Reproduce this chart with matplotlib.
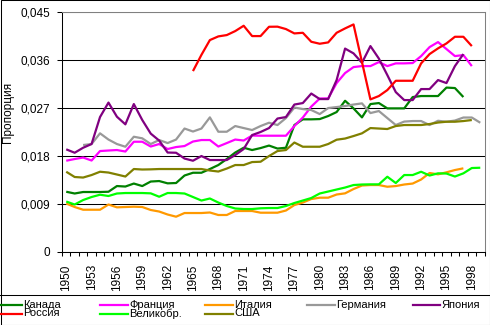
import numpy as np
import matplotlib
matplotlib.use("Agg")
import matplotlib.pyplot as plt
from matplotlib.lines import Line2D
from matplotlib.patches import Rectangle
from matplotlib.ticker import FixedLocator, FixedFormatter, NullFormatter

nan = np.nan

years = list(range(1950, 2000))

canada = [0.01127, 0.01094, 0.01122, 0.01122, 0.01122, 0.01127, 0.01234, 0.01225, 0.01281, 0.01234,
          0.01319, 0.01328, 0.01285, 0.01291, 0.01432, 0.01484, 0.01484, 0.01554, 0.01629, 0.01742,
          0.01864, 0.01954, 0.01911, 0.01948, 0.01995, 0.01939, 0.01954, 0.02381, 0.02488, 0.02488,
          0.02493, 0.02550, 0.02625, 0.02837, 0.02694, 0.02525, 0.02775, 0.02794, 0.02694, 0.02694,
          0.02694, 0.02907, 0.02926, 0.02926, 0.02926, 0.03085, 0.03076, 0.02907, nan, nan]

france = [0.01710, 0.01742, 0.01770, 0.01714, 0.01892, 0.01902, 0.01911, 0.01883, 0.02067, 0.02067,
          0.01977, 0.02024, 0.01930, 0.01967, 0.01986, 0.02071, 0.02099, 0.02099, 0.01977, 0.02042,
          0.02108, 0.02090, 0.02183, 0.02180, 0.02180, 0.02180, 0.02180, 0.02362, 0.02522, 0.02728,
          0.02879, 0.02882, 0.03170, 0.03358, 0.03470, 0.03489, 0.03489, 0.03564, 0.03489, 0.03540,
          0.03540, 0.03546, 0.03677, 0.03846, 0.03940, 0.03809, 0.03677, 0.03696, 0.03489, nan]

italy = [0.00906, 0.00840, 0.00789, 0.00789, 0.00789, 0.00887, 0.00834, 0.00840, 0.00846, 0.00840,
         0.00784, 0.00755, 0.00699, 0.00658, 0.00727, 0.00727, 0.00727, 0.00737, 0.00690, 0.00690,
         0.00765, 0.00765, 0.00765, 0.00733, 0.00733, 0.00733, 0.00774, 0.00877, 0.00924, 0.00990,
         0.01015, 0.01015, 0.01075, 0.01097, 0.01178, 0.01244, 0.01253, 0.01253, 0.01221, 0.01234,
         0.01263, 0.01281, 0.01357, 0.01479, 0.01454, 0.01492, 0.01535, 0.01567, nan, nan]

germany = [nan, nan, 0.02005, 0.02024, 0.02225, 0.02108, 0.02024, 0.01973, 0.02161, 0.02131,
           0.02024, 0.02099, 0.02042, 0.02108, 0.02315, 0.02259, 0.02315, 0.02525, 0.02255, 0.02255,
           0.02362, 0.02324, 0.02287, 0.02362, 0.02424, 0.02381, 0.02512, 0.02710, 0.02681, 0.02663,
           0.02587, 0.02700, 0.02719, 0.02738, 0.02766, 0.02788, 0.02606, 0.02644, 0.02512, 0.02381,
           0.02446, 0.02456, 0.02456, 0.02381, 0.02461, 0.02443, 0.02465, 0.02522, 0.02522, 0.02424]

japan = [0.01924, 0.01860, 0.01954, 0.02024, 0.02531, 0.02803, 0.02537, 0.02394, 0.02775, 0.02475,
         0.02220, 0.02089, 0.01864, 0.01860, 0.01751, 0.01710, 0.01798, 0.01723, 0.01723, 0.01723,
         0.01817, 0.01930, 0.02193, 0.02250, 0.02324, 0.02503, 0.02531, 0.02766, 0.02794, 0.02973,
         0.02869, 0.02869, 0.03226, 0.03818, 0.03728, 0.03551, 0.03865, 0.03630, 0.03320, 0.03000,
         0.02850, 0.02850, 0.03057, 0.03057, 0.03226, 0.03170, 0.03489, 0.03715, nan, nan]

russia = [nan, nan, nan, nan, nan, nan, nan, nan, nan, nan,
          nan, nan, nan, nan, nan, 0.03395, 0.03700, 0.03978, 0.04047, 0.04072,
          0.04147, 0.04247, 0.04053, 0.04053, 0.04228, 0.04230, 0.04185, 0.04103, 0.04115, 0.03946,
          0.03909, 0.03934, 0.04115, 0.04197, 0.04272, 0.03565, 0.02863, 0.02926, 0.03038, 0.03213,
          0.03213, 0.03213, 0.03540, 0.03715, 0.03822, 0.03915, 0.04040, 0.04040, 0.03865, nan]

britain = [0.00943, 0.00887, 0.00971, 0.01028, 0.01071, 0.01047, 0.01094, 0.01103, 0.01103, 0.01103,
           0.01097, 0.01033, 0.01103, 0.01103, 0.01094, 0.01028, 0.00962, 0.01000, 0.00924, 0.00859,
           0.00812, 0.00802, 0.00802, 0.00816, 0.00821, 0.00821, 0.00859, 0.00915, 0.00962, 0.01009,
           0.01094, 0.01131, 0.01169, 0.01206, 0.01253, 0.01263, 0.01266, 0.01266, 0.01409, 0.01291,
           0.01441, 0.01441, 0.01503, 0.01432, 0.01473, 0.01469, 0.01413, 0.01473, 0.01573, 0.01578]

usa = [0.01503, 0.01404, 0.01394, 0.01441, 0.01503, 0.01488, 0.01451, 0.01413, 0.01554, 0.01545,
       0.01548, 0.01554, 0.01554, 0.01554, 0.01554, 0.01554, 0.01554, 0.01526, 0.01507, 0.01563,
       0.01629, 0.01629, 0.01685, 0.01691, 0.01798, 0.01892, 0.01911, 0.02052, 0.01973, 0.01973,
       0.01973, 0.02024, 0.02105, 0.02127, 0.02174, 0.02225, 0.02324, 0.02315, 0.02306, 0.02362,
       0.02381, 0.02381, 0.02381, 0.02400, 0.02428, 0.02443, 0.02443, 0.02456, 0.02475, nan]

series_names = ["Канада", "Франция", "Италия", "Германия", "Япония",
                "Россия", "Великобр.", "США"]
series_values = [canada, france, italy, germany, japan, russia, britain, usa]
series_colors = ["#008000", "#FF00FF", "#FF9900", "#999999", "#800080",
                 "#FF0000", "#00FF00", "#808000"]

y_ticks = [0, 0.009, 0.018, 0.027, 0.036, 0.045]
y_tick_labels = ["0", "0,009", "0,018", "0,027", "0,036", "0,045"]
x_label_years = list(range(1950, 2000, 3))
y_title = "Пропорция"

W, H = 490, 325
plt.rcParams['font.family'] = ['Liberation Sans', 'DejaVu Sans']
fig = plt.figure(figsize=(W / 100, H / 100), dpi=100)
fig.patch.set_facecolor("white")


def fx(px):
    return px / W


def fy(py):
    return 1 - py / H


ax = fig.add_axes([fx(62), fy(251.7), fx(484.5) - fx(62), fy(12.3) - fy(251.7)])

for vals, col in zip(series_values, series_colors):
    ax.plot(years, np.array(vals, dtype=float), color=col, lw=1.6, zorder=3,
            solid_joinstyle="round", solid_capstyle="butt")

ax.set_xlim(1949.5, 1999.5)
ax.set_ylim(0, 0.045)

# category axis: labels centred on the years, tick marks between categories
ax.xaxis.set_major_locator(FixedLocator(x_label_years))
ax.xaxis.set_major_formatter(FixedFormatter([str(y) for y in x_label_years]))
ax.xaxis.set_minor_locator(FixedLocator(np.arange(1949.5, 2000.0, 1.0)))
ax.xaxis.set_minor_formatter(NullFormatter())
ax.tick_params(axis="x", which="major", length=0, pad=9, labelsize=8.5, rotation=90)
ax.tick_params(axis="x", which="minor", length=3.2, width=0.75, direction="out", color="black")

ax.yaxis.set_major_locator(FixedLocator(y_ticks))
ax.yaxis.set_major_formatter(FixedFormatter(y_tick_labels))
ax.tick_params(axis="y", which="major", length=3.8, width=0.75, direction="out",
               pad=5, labelsize=8.5, color="black")

ax.yaxis.grid(True, color="black", lw=0.75)
ax.set_axisbelow(True)

for side in ("left", "bottom"):
    ax.spines[side].set_color("black")
    ax.spines[side].set_linewidth(0.75)
for side in ("top", "right"):
    ax.spines[side].set_color("#808080")
    ax.spines[side].set_linewidth(0.75)

fig.text(fx(8), fy(112), y_title, rotation=90, ha="center", va="center", fontsize=8.5)

# legend box along the bottom of the chart
fig.add_artist(Line2D([0, 1], [fy(294.5), fy(294.5)], transform=fig.transFigure,
                      color="black", lw=0.75))
legend_rows = [304.5, 313.5]
legend_cols = [(0, 22), (100, 128), (205, 233), (307, 335), (413, 440)]
slots = [(0, 0), (0, 1), (0, 2), (0, 3), (0, 4), (1, 0), (1, 1), (1, 2)]
for name, col, (r, c) in zip(series_names, series_colors, slots):
    x0, x1 = legend_cols[c]
    yy = fy(legend_rows[r])
    fig.add_artist(Line2D([fx(x0), fx(x1)], [yy, yy], transform=fig.transFigure,
                          color=col, lw=1.6))
    fig.text(fx(x1 + 1), yy, name, ha="left", va="center", fontsize=8)

# chart frame
fig.add_artist(Rectangle((fx(0.5), fy(324.5)), fx(489), fy(0.5) - fy(324.5),
                         transform=fig.transFigure, fill=False, edgecolor="black", lw=0.75))

fig.savefig("out.png", dpi=100)
